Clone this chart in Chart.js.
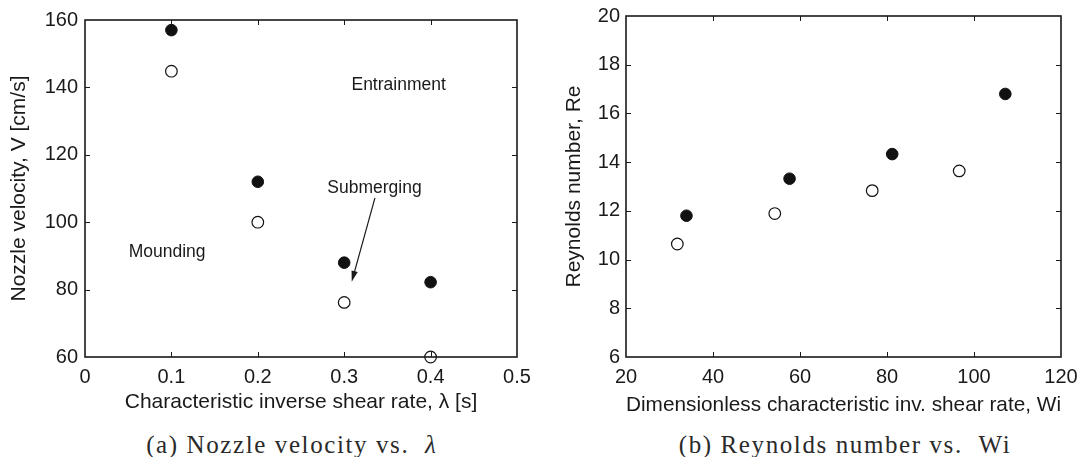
<!DOCTYPE html>
<html>
<head>
<meta charset="utf-8">
<script src="https://cdn.jsdelivr.net/npm/chart.js@4.4.0/dist/chart.umd.min.js"></script>
<style>
  body { margin: 0; background: #fff; width: 1077px; height: 457px; overflow: hidden; position: relative; }
  .plot { position: absolute; top: 0; }
  #plotA { left: 0; }
  #plotB { left: 540px; }
  .cap {
    position: absolute; top: 429px; height: 32px; line-height: 32px;
    font-family: "Liberation Serif", serif; font-size: 25px; color: #2a2a2a;
    letter-spacing: 1.6px; white-space: nowrap; transform: translateX(-50%);
  }
  .cap i { letter-spacing: 0; }
</style>
</head>
<body>
<canvas id="plotA" class="plot" width="540" height="425"></canvas>
<canvas id="plotB" class="plot" width="537" height="425"></canvas>
<div class="cap" style="left:291px">(a) Nozzle velocity vs. &nbsp;<i>λ</i></div>
<div class="cap" style="left:845px">(b) Reynolds number vs. &nbsp;Wi</div>
<script>
// panel (a): nozzle velocity vs lambda
const lambdaVals = [0.1, 0.2, 0.3, 0.4];
const velFilled = [157, 112, 88, 82.2];
const velOpen = [144.8, 100, 76.2, 60];

// panel (b): Reynolds number vs Wi
const wiFilled = [33.9, 57.6, 81.2, 107.2];
const reFilled = [11.8, 13.32, 14.33, 16.8];
const wiOpen = [31.8, 54.2, 76.6, 96.6];
const reOpen = [10.64, 11.89, 12.83, 13.64];

// ticks
const ticksLambda = [0, 0.1, 0.2, 0.3, 0.4, 0.5];
const labelsLambda = ['0', '0.1', '0.2', '0.3', '0.4', '0.5'];
const ticksVel = [60, 80, 100, 120, 140, 160];
const ticksWi = [20, 40, 60, 80, 100, 120];
const ticksRe = [6, 8, 10, 12, 14, 16, 18, 20];

// region labels of panel (a), in data units
const regionNames = ['Entrainment', 'Submerging', 'Mounding'];
const regionLambda = [0.363, 0.335, 0.095];
const regionVel = [140.7, 110.1, 91.0];
const arrowLambda = [0.3356, 0.3087];
const arrowVel = [107.2, 82.3];

const ink = '#1a1a1a';
const sans = 'Liberation Sans';

// MATLAB style box with inward ticks
const boxPlugin = {
  id: 'box',
  afterDatasetsDraw(chart) {
    const { ctx, chartArea: a, scales: { x, y } } = chart;
    ctx.save();
    ctx.strokeStyle = ink;
    ctx.lineWidth = 1;
    ctx.beginPath();
    x.ticks.forEach(t => {
      const px = Math.round(x.getPixelForValue(t.value)) + 0.5;
      if (px < a.left + 2 || px > a.right - 2) return;
      ctx.moveTo(px, a.bottom); ctx.lineTo(px, a.bottom - 5);
      ctx.moveTo(px, a.top); ctx.lineTo(px, a.top + 5);
    });
    y.ticks.forEach(t => {
      const py = Math.round(y.getPixelForValue(t.value)) + 0.5;
      if (py < a.top + 2 || py > a.bottom - 2) return;
      ctx.moveTo(a.left, py); ctx.lineTo(a.left + 5, py);
      ctx.moveTo(a.right, py); ctx.lineTo(a.right - 5, py);
    });
    ctx.stroke();
    ctx.lineWidth = 1.6;
    ctx.strokeRect(a.left, a.top, a.width, a.height);
    ctx.restore();
  }
};

const notesPlugin = {
  id: 'notes',
  afterDatasetsDraw(chart) {
    const { ctx, scales: { x, y } } = chart;
    ctx.save();
    ctx.fillStyle = ink;
    ctx.font = '17.5px "' + sans + '"';
    ctx.textAlign = 'center';
    ctx.textBaseline = 'middle';
    regionNames.forEach((n, i) => {
      ctx.fillText(n, x.getPixelForValue(regionLambda[i]), y.getPixelForValue(regionVel[i]));
    });
    // arrow
    const x0 = x.getPixelForValue(arrowLambda[0]), y0 = y.getPixelForValue(arrowVel[0]);
    const x1 = x.getPixelForValue(arrowLambda[1]), y1 = y.getPixelForValue(arrowVel[1]);
    const ang = Math.atan2(y1 - y0, x1 - x0);
    ctx.strokeStyle = ink;
    ctx.lineWidth = 1.2;
    ctx.beginPath();
    ctx.moveTo(x0, y0);
    ctx.lineTo(x1 - 8 * Math.cos(ang), y1 - 8 * Math.sin(ang));
    ctx.stroke();
    ctx.beginPath();
    ctx.moveTo(x1, y1);
    ctx.lineTo(x1 - 11 * Math.cos(ang) + 3.2 * Math.sin(ang), y1 - 11 * Math.sin(ang) - 3.2 * Math.cos(ang));
    ctx.lineTo(x1 - 11 * Math.cos(ang) - 3.2 * Math.sin(ang), y1 - 11 * Math.sin(ang) + 3.2 * Math.cos(ang));
    ctx.closePath();
    ctx.fill();
    ctx.restore();
  }
};

function pts(xs, ys) {
  return xs.map((v, i) => ({ x: v, y: ys[i] }));
}

function filledSet(data) {
  return { data, pointRadius: 5.8, pointHoverRadius: 5.8, pointBackgroundColor: '#111',
    pointBorderColor: '#111', pointBorderWidth: 1, showLine: false, clip: false };
}
function openSet(data) {
  return { data, pointRadius: 5.8, pointHoverRadius: 5.8, pointBackgroundColor: '#fff',
    pointBorderColor: '#111', pointBorderWidth: 1.2, showLine: false, clip: false };
}

function axis(opts) {
  const horizontal = opts.horizontal;
  return {
    type: 'linear',
    min: opts.ticks[0],
    max: opts.ticks[opts.ticks.length - 1],
    grid: { display: false, drawTicks: false },
    border: { display: false },
    afterBuildTicks: s => { s.ticks = opts.ticks.map(v => ({ value: v })); },
    afterFit: s => {
      if (horizontal) { s.height = opts.size; s.paddingLeft = 0; s.paddingRight = 0; }
      else { s.width = opts.size; s.paddingTop = 0; s.paddingBottom = 0; }
    },
    ticks: {
      color: ink,
      font: { family: sans, size: 20 },
      padding: opts.tickPad,
      maxRotation: 0,
      autoSkip: false,
      callback: (v, i) => opts.labels ? opts.labels[i] : String(v)
    },
    title: {
      display: true,
      text: opts.title,
      color: ink,
      font: { family: sans, size: 21 },
      padding: opts.titlePad
    }
  };
}

function makeChart(id, datasets, xOpts, yOpts, pad, plugins) {
  return new Chart(document.getElementById(id), {
    type: 'scatter',
    data: { datasets },
    options: {
      responsive: false,
      animation: false,
      devicePixelRatio: 1,
      layout: { padding: pad },
      plugins: { legend: { display: false }, tooltip: { enabled: false } },
      scales: { x: axis(xOpts), y: axis(yOpts) }
    },
    plugins
  });
}

makeChart('plotA',
  [openSet(pts(lambdaVals, velOpen)), filledSet(pts(lambdaVals, velFilled))],
  { horizontal: true, ticks: ticksLambda, labels: labelsLambda, size: 68, tickPad: 8,
    title: 'Characteristic inverse shear rate, λ [s]', titlePad: { top: 0, bottom: 10 } },
  { horizontal: false, ticks: ticksVel, size: 85, tickPad: 7,
    title: 'Nozzle velocity, V [cm/s]', titlePad: { top: 7, bottom: 0 } },
  { left: 0, top: 20, right: 23, bottom: 0 },
  [boxPlugin, notesPlugin]);

makeChart('plotB',
  [openSet(pts(wiOpen, reOpen)), filledSet(pts(wiFilled, reFilled))],
  { horizontal: true, ticks: ticksWi, size: 68, tickPad: 8,
    title: 'Dimensionless characteristic inv. shear rate, Wi', titlePad: { top: 0, bottom: 7 } },
  { horizontal: false, ticks: ticksRe, size: 86, tickPad: 6,
    title: 'Reynolds number, Re', titlePad: { top: 22, bottom: 0 } },
  { left: 0, top: 16, right: 16, bottom: 0 },
  [boxPlugin]);
</script>
</body>
</html>
